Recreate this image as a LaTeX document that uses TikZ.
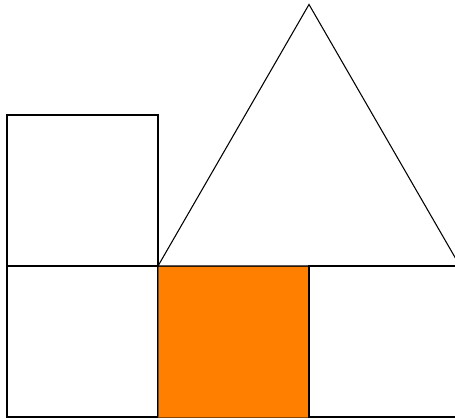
\documentclass[tikz,border=0pt]{standalone}
\usepackage{xcolor}
\usepackage{tikz}
\usetikzlibrary{calc}
\definecolor{fillorange}{RGB}{255,128,0}
\tikzset{
  outline/.style={line width=0.6pt,draw=black},
  shaded/.style={line width=0.5pt,draw=fillorange!55!black,fill=fillorange}
}

\begin{document}
\begin{tikzpicture}[x=3cm,y=3cm]
  % visible window, cut at the right edge
  \clip (-0.0464,-0.0132) rectangle (2.9669,2.7616);
  \useasboundingbox (-0.0464,-0.0132) rectangle (2.9669,2.7616);

  \coordinate (o)    at (0,0);
  \coordinate (bl)   at (1,1);
  \coordinate (br)   at (3,1);
  \coordinate (apex) at ($(bl)!0.5!(br)+(0,{sqrt(3)})$);

  % bottom row
  \draw[outline] (0,0) rectangle (1,1);
  \draw[shaded]  (1,0) rectangle (2,1);
  \draw[outline] (2,0) rectangle (3,1);

  % upper square
  \draw[outline] (0,1) rectangle (1,2);

  % roof
  \draw[outline] (bl) -- (apex) -- (br) -- cycle;
\end{tikzpicture}
\end{document}
